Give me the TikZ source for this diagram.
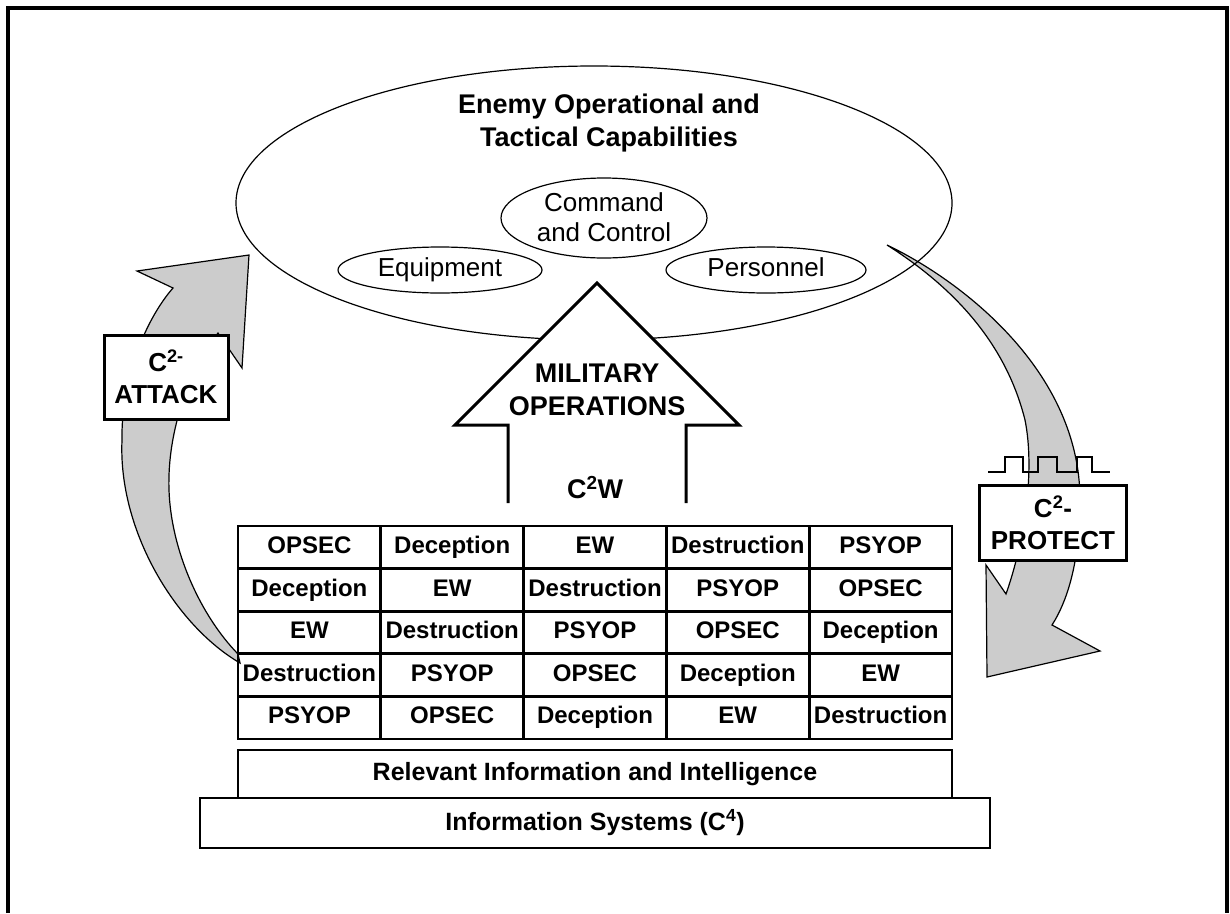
\documentclass[tikz,border=0pt]{standalone}
\usepackage{fontspec}
\setmainfont{Liberation Sans}
\usetikzlibrary{shapes.geometric}

\begin{document}
\begin{tikzpicture}[x=1pt, y=-1pt,
  blob/.style={draw, ellipse, line width=1.2pt, inner sep=0pt, text height=19pt, text depth=6pt, font=\fontsize{26}{30}\selectfont},
  bend arrow/.style={draw, line width=1.2pt, fill=black!20, line join=miter},
  cell/.style={draw, line width=2.8pt, minimum width=142.8pt, minimum height=42.6pt, inner sep=0pt, text height=17.5pt, text depth=5pt, font=\bfseries\fontsize{24}{28}\selectfont},
  slab/.style={draw, fill=white, line width=2.8pt, inner sep=0pt, font=\bfseries\fontsize{25}{30}\selectfont},
  tag/.style={draw, fill=white, line width=3pt, inner sep=0pt, align=center, font=\bfseries\fontsize{26}{32}\selectfont},
  heading/.style={align=center, font=\bfseries\fontsize{27}{33}\selectfont}]

\useasboundingbox (0,0) rectangle (1230,913);
\draw[line width=4pt] (8,913) -- (8,8) -- (1227,8) -- (1227,913); %frame

% C2-attack arrow
\path[bend arrow] (240,663) .. controls (175,625) and (118,530) .. (122,440)
  .. controls (121,380) and (145,320) .. (173,288) -- (137,271) -- (249,255) -- (242,368) -- (218,333)
  .. controls (190,370) and (167,430) .. (169,490) .. controls (171,550) and (200,615) .. (238,654) -- cycle;
% C2-protect arrow
\path[bend arrow] (887,245) .. controls (960,280) and (1080,370) .. (1080,500)
  .. controls (1080,560) and (1068,600) .. (1052,625) -- (1100,651) -- (987,677) -- (986,565) -- (1006,594)
  .. controls (1025,540) and (1035,470) .. (1025,420) .. controls (1005,340) and (950,285) .. (887,245) -- cycle;

\node[blob, minimum width=716pt, minimum height=274pt] (enemy) at (594,203) {};
\node[heading] (enemytitle) at (609,123) {Enemy Operational and\\Tactical Capabilities};
\node[blob, minimum width=206pt, minimum height=80pt] (ctrl) at (604,218) {};
\node[align=center, font=\fontsize{26}{30}\selectfont] (ctrltext) at (604,217) {Command\\and Control};
\node[blob, minimum width=204pt, minimum height=46pt] (equip) at (440,270) {Equipment};
\node[blob, minimum width=200pt, minimum height=46pt] (staff) at (766,270) {Personnel};

% military operations arrow
\fill[white] (508,505) -- (508,425) -- (455,425) -- (597,283) -- (739,425) -- (686,425) -- (686,505) -- cycle;
\draw[line width=3pt] (508,503) -- (508,425) -- (455,425) -- (597,283) -- (739,425) -- (686,425) -- (686,503);
\node[heading] (milops) at (597,390) {MILITARY\\OPERATIONS};
\node[heading] (c2w) at (595,488) {C\textsuperscript{2}W};

% C2W matrix
\foreach \row [count=\r from 0] in {{OPSEC,Deception,EW,Destruction,PSYOP},
    {Deception,EW,Destruction,PSYOP,OPSEC},{EW,Destruction,PSYOP,OPSEC,Deception},
    {Destruction,PSYOP,OPSEC,Deception,EW},{PSYOP,OPSEC,Deception,EW,Destruction}}
  \foreach \word [count=\c from 0] in \row
    \node[cell] (cell-\r-\c) at (309.4+142.8*\c, 547.3+42.6*\r) {\word};

\node[slab, minimum width=714pt, minimum height=48pt] (intel) at (595,774) {Relevant Information and Intelligence};
\node[slab, minimum width=790pt, minimum height=50pt] (c4) at (595,823) {Information Systems (C\textsuperscript{4})};

\node[tag, minimum width=124pt, minimum height=84pt] (attack) at (166,377) {C\textsuperscript{2-}\\ATTACK};
\node[tag, minimum width=147pt, minimum height=75pt] (protect) at (1053,523) {C\textsuperscript{2}-\\PROTECT};
\draw[line width=2pt] (988,472) -- (1005,472) -- (1005,457) -- (1023,457) -- (1023,472) -- (1038,472) -- (1038,457)
  -- (1057,457) -- (1057,472) -- (1077,472) -- (1077,457) -- (1092,457) -- (1092,472) -- (1110,472); %signal
\end{tikzpicture}
\end{document}
